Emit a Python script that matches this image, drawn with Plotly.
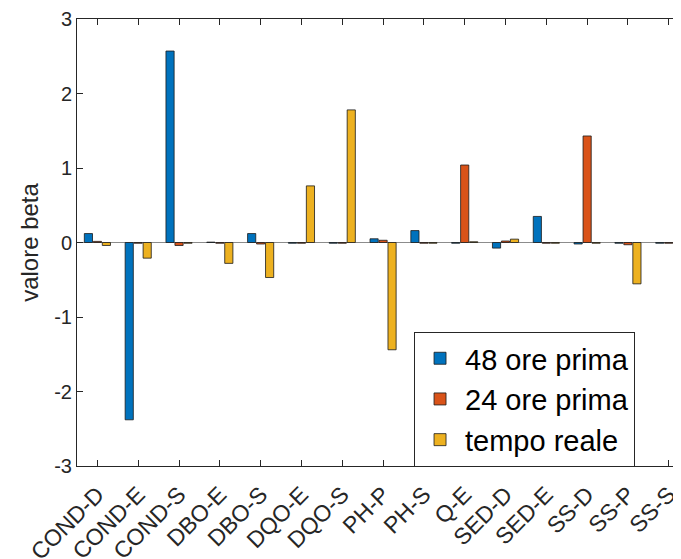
import plotly.graph_objects as go

categories = ["COND-D", "COND-E", "COND-S", "DBO-E", "DBO-S", "DQO-E", "DQO-S",
              "PH-P", "PH-S", "Q-E", "SED-D", "SED-E", "SS-D", "SS-P", "SS-S"]
ore48 = [0.12, -2.38, 2.57, 0.005, 0.12, -0.01, -0.01, 0.05, 0.16, -0.01, -0.075, 0.35, -0.02, -0.01, -0.01]
ore24 = [0.015, -0.01, -0.04, -0.01, -0.02, -0.01, -0.01, 0.03, -0.01, 1.04, 0.02, -0.01, 1.43, -0.03, -0.01]
reale = [-0.04, -0.21, -0.01, -0.28, -0.47, 0.76, 1.78, -1.44, -0.01, 0.01, 0.045, -0.01, -0.01, -0.555, 1.03]
series_names = ["48 ore prima", "24 ore prima", "tempo reale"]
colors = ["#0072BD", "#D95319", "#EDB120"]
yticks = [-3, -2, -1, 0, 1, 2, 3]

xpos = list(range(1, len(categories) + 1))
font = "Liberation Sans, Arial, sans-serif"

fig = go.Figure()
for i, (name, vals) in enumerate(zip(series_names, [ore48, ore24, reale])):
    fig.add_trace(go.Bar(
        x=xpos, y=vals, name=name,
        marker=dict(color=colors[i], line=dict(color="#1a1a1a", width=0.8)),
        legendgroup=name,
    ))

# page body has an 8px margin, so the figure is sized to end at the window edge
fig.update_layout(
    width=673, height=551,
    margin=dict(l=69, r=0, t=11, b=93),
    paper_bgcolor="white", plot_bgcolor="white",
    barmode="group", bargap=0.34, bargroupgap=0.09,
    font=dict(family=font, color="#262626", size=20),
    showlegend=True,
    legend=dict(
        x=0.558, y=0.30, xanchor="left", yanchor="top",
        bgcolor="white", bordercolor="#262626", borderwidth=1,
        font=dict(size=29, color="black", family=font),
        traceorder="grouped", tracegroupgap=0, itemwidth=40,
    ),
    xaxis=dict(
        range=[0.5, 15.30], tickmode="array", tickvals=xpos, ticktext=categories,
        tickangle=-45, ticks="inside", ticklen=6, tickcolor="#262626",
        showline=True, linecolor="#262626", linewidth=1, mirror="ticks",
        showgrid=False, zeroline=False, tickfont=dict(size=23), automargin=False,
        ticklabelstandoff=5,
    ),
    yaxis=dict(
        range=[-3, 3], tickmode="array", tickvals=yticks,
        ticktext=[str(v) for v in yticks],
        ticks="inside", ticklen=6, tickcolor="#262626",
        showline=True, linecolor="#262626", linewidth=1, mirror=False,
        showgrid=False, zeroline=True, zerolinecolor="#8c8c8c", zerolinewidth=1,
        title=dict(text="valore beta", font=dict(size=24), standoff=8),
        tickfont=dict(size=20), automargin=False,
    ),
)

fig.write_html("out.html")
